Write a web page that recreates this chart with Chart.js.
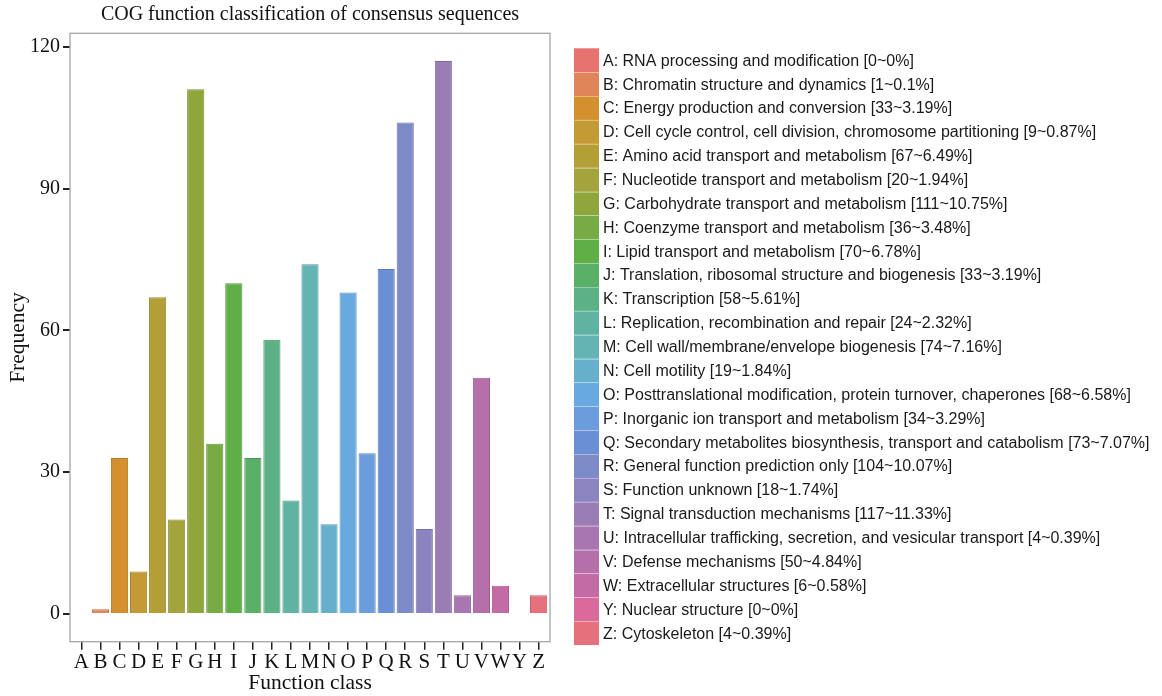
<!DOCTYPE html>
<html lang="en">
<head>
  <meta charset="UTF-8">
  <title>COG function classification</title>
  <script src="https://cdn.jsdelivr.net/npm/chart.js"></script>
  <style>
    html, body { margin: 0; padding: 0; background: #fff; }
    #wrap { width: 1162px; height: 696px; position: relative; }
  </style>
</head>
<body>
  <div id="wrap"><canvas id="chart"></canvas></div>

  <script>
    // classes A..Z (no X)
    const classes = ['A','B','C','D','E','F','G','H','I','J','K','L','M','N','O','P','Q','R','S','T','U','V','W','Y','Z'];
    const counts = [0, 1, 33, 9, 67, 20, 111, 36, 70, 33, 58, 24, 74, 19, 68, 34, 73, 104, 18, 117, 4, 50, 6, 0, 4];
    const percents = ['0', '0.1', '3.19', '0.87', '6.49', '1.94', '10.75', '3.48', '6.78', '3.19', '5.61', '2.32', '7.16', '1.84', '6.58', '3.29', '7.07', '10.07', '1.74', '11.33', '0.39', '4.84', '0.58', '0', '0.39'];
    const descriptions = [
      'RNA processing and modification',
      'Chromatin structure and dynamics',
      'Energy production and conversion',
      'Cell cycle control, cell division, chromosome partitioning',
      'Amino acid transport and metabolism',
      'Nucleotide transport and metabolism',
      'Carbohydrate transport and metabolism',
      'Coenzyme transport and metabolism',
      'Lipid transport and metabolism',
      'Translation, ribosomal structure and biogenesis',
      'Transcription',
      'Replication, recombination and repair',
      'Cell wall/membrane/envelope biogenesis',
      'Cell motility',
      'Posttranslational modification, protein turnover, chaperones',
      'Inorganic ion transport and metabolism',
      'Secondary metabolites biosynthesis, transport and catabolism',
      'General function prediction only',
      'Function unknown',
      'Signal transduction mechanisms',
      'Intracellular trafficking, secretion, and vesicular transport',
      'Defense mechanisms',
      'Extracellular structures',
      'Nuclear structure',
      'Cytoskeleton'
    ];
    const yTicks = [0, 30, 60, 90, 120];
    const colors = [
      '#e6736f', '#e0845a', '#d4902f', '#c39a35', '#b39f35', '#a3a43b', '#8ea63b', '#77ab45',
      '#5fae46', '#5bb067', '#5cb285', '#60b3a0', '#64b4b4', '#66b0cb', '#68aadf', '#6b9ddc',
      '#6b8fd4', '#7d8ac8', '#8c84c0', '#9b7db6', '#a876b0', '#b56fa9', '#c36ba4', '#da6a9b', '#e4717c'
    ];
    const edgeColors = colors.map(c => shade(c, 0.85));

    function shade(hex, f) {
      const n = parseInt(hex.slice(1), 16);
      const r = Math.round(((n >> 16) & 255) * f);
      const g = Math.round(((n >> 8) & 255) * f);
      const b = Math.round((n & 255) * f);
      return `rgb(${r},${g},${b})`;
    }

    const serif = '"Liberation Serif", "DejaVu Serif", serif';
    const sans = '"Liberation Sans", Arial, sans-serif';

    // panel border, title and legend drawn by hand
    const decor = {
      id: 'decor',
      beforeDatasetsDraw(chart) {
        const { ctx, chartArea: a } = chart;
        ctx.save();
        ctx.strokeStyle = '#a6a6a6';
        ctx.lineWidth = 1.3;
        ctx.strokeRect(a.left, a.top, a.right - a.left, a.bottom - a.top);
        ctx.restore();
      },
      afterDraw(chart) {
        const { ctx, chartArea: a } = chart;
        ctx.save();
        ctx.fillStyle = '#111';
        ctx.font = '20px ' + serif;
        ctx.textAlign = 'center';
        ctx.textBaseline = 'middle';
        ctx.fillText('COG function classification of consensus sequences', (a.left + a.right) / 2, 15);

        const x0 = 574, y0 = 48.3, w = 25, h = 23.87;
        ctx.font = '16px ' + sans;
        ctx.textAlign = 'left';
        classes.forEach((c, i) => {
          const y = y0 + i * h;
          ctx.fillStyle = colors[i];
          ctx.fillRect(x0, y, w, h);
          ctx.fillStyle = '#1a1a1a';
          ctx.fillText(`${c}: ${descriptions[i]} [${counts[i]}~${percents[i]}%]`, x0 + 29, y + h / 2 + 1);
        });
        ctx.strokeStyle = 'rgba(255,255,255,0.35)';
        ctx.lineWidth = 1;
        for (let i = 1; i < classes.length; i++) {
          const y = Math.round(y0 + i * h) + 0.5;
          ctx.beginPath();
          ctx.moveTo(x0, y);
          ctx.lineTo(x0 + w, y);
          ctx.stroke();
        }
        ctx.restore();
      }
    };

    new Chart(document.getElementById('chart'), {
      type: 'bar',
      data: {
        datasets: [{
          label: 'Frequency',
          data: classes.map((c, i) => ({ x: i + 1, y: counts[i] })),
          backgroundColor: colors,
          borderColor: edgeColors,
          borderWidth: 1,
          barPercentage: 0.9,
          categoryPercentage: 1.0
        }]
      },
      options: {
        responsive: true,
        maintainAspectRatio: false,
        animation: false,
        layout: { padding: { left: 0, top: 33.3, right: 612, bottom: 0 } },
        plugins: {
          legend: { display: false },
          tooltip: { enabled: false }
        },
        scales: {
          x: {
            type: 'linear',
            offset: false,
            min: 0.4,
            max: 25.6,
            afterBuildTicks: s => { s.ticks = classes.map((c, i) => ({ value: i + 1 })); },
            afterFit: s => { s.height = 54.3; },
            ticks: {
              callback: v => classes[v - 1],
              autoSkip: false,
              maxRotation: 0,
              padding: 0,
              color: '#111',
              font: { family: serif, size: 21 }
            },
            grid: {
              display: true,
              offset: false,
              drawOnChartArea: false,
              drawTicks: true,
              tickLength: 8,
              color: '#222',
              lineWidth: 1.5
            },
            border: { display: false },
            title: {
              display: true,
              text: 'Function class',
              color: '#111',
              font: { family: serif, size: 21.5 },
              padding: { top: 0, bottom: 0 }
            }
          },
          y: {
            min: -5.85,
            max: 122.85,
            afterBuildTicks: s => { s.ticks = yTicks.map(v => ({ value: v })); },
            afterFit: s => { s.width = 70; },
            ticks: {
              padding: 3,
              color: '#111',
              font: { family: serif, size: 20 }
            },
            grid: {
              display: true,
              drawOnChartArea: false,
              drawTicks: true,
              tickLength: 7,
              color: '#222',
              lineWidth: 2
            },
            border: { display: false },
            title: {
              display: true,
              text: 'Frequency',
              color: '#111',
              font: { family: serif, size: 21.5 },
              padding: { top: 5, bottom: 0 }
            }
          }
        }
      },
      plugins: [decor]
    });
  </script>
</body>
</html>
